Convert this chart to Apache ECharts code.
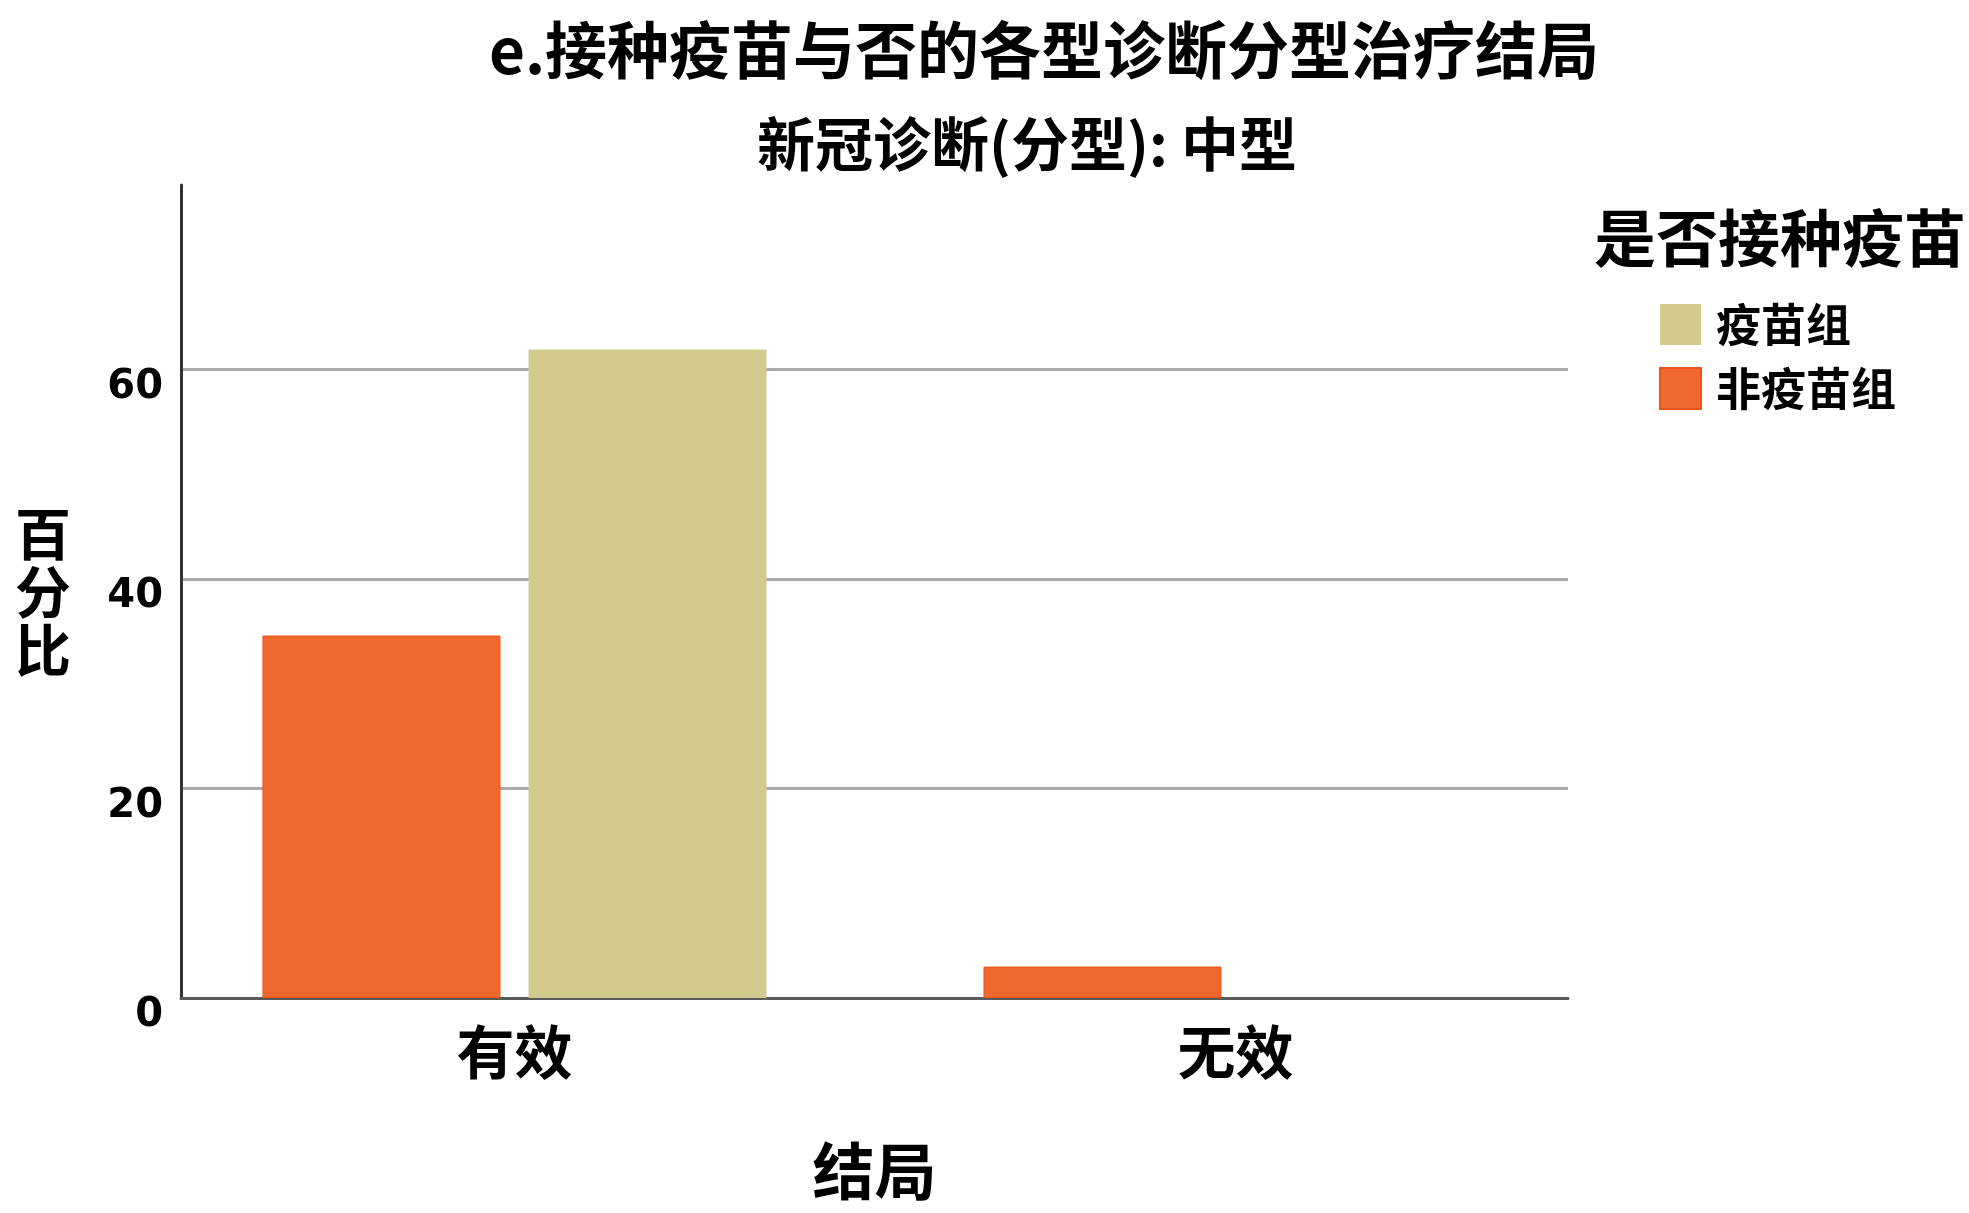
<!DOCTYPE html>
<html>
<head>
<meta charset="utf-8">
<script src="https://cdn.jsdelivr.net/npm/echarts@6/dist/echarts.min.js"></script>
<style>
html,body{margin:0;padding:0;background:#fff;}
#chart{width:1969px;height:1213px;}
</style>
</head>
<body>
<div id="chart"></div>
<script>
var categories = ['有效', '无效'];
var seriesNames = ['非疫苗组', '疫苗组'];
var nonVaccineValues = [34.6, 3.0];
var vaccineValues = [61.9, 0];
var yTicks = [0, 20, 40, 60];
var yMax = 77.6;

var CJK = '"Noto Sans CJK SC", "Noto Sans", sans-serif';
var chart = echarts.init(document.getElementById('chart'), null, {renderer: 'canvas'});

var option = {
  backgroundColor: '#ffffff',
  animation: false,
  title: [
    {text: 'e.接种疫苗与否的各型诊断分型治疗结局', left: 1039, top: 14, textAlign: 'center',
     textStyle: {fontFamily: CJK, fontWeight: 'bold', fontSize: 62, color: '#000', lineHeight: 62}},
    {text: '新冠诊断(分型): 中型', left: 1022, top: 110, textAlign: 'center',
     textStyle: {fontFamily: CJK, fontWeight: 'bold', fontSize: 58, color: '#000', lineHeight: 58}},
    {text: '是否接种疫苗', left: 1589, top: 202,
     textStyle: {fontFamily: CJK, fontWeight: 'bold', fontSize: 62, color: '#000', lineHeight: 62}}
  ],
  legend: {
    orient: 'vertical', left: 1654, top: 297,
    data: ['疫苗组', '非疫苗组'],
    itemWidth: 41, itemHeight: 41, itemGap: 19,
    icon: 'rect',
    textStyle: {fontFamily: CJK, fontWeight: 'bold', fontSize: 45, lineHeight: 41, color: '#000', padding: [0, 0, 0, 10]}
  },
  grid: [
    {left: 181, right: 401, top: 185, bottom: 215, containLabel: false},
    {left: 154, right: 373, top: 185, bottom: 215, containLabel: false}
  ],
  xAxis: [
    {type: 'category', gridIndex: 0, data: categories,
     axisLine: {show: true, lineStyle: {color: '#5a5a5a', width: 3}},
     axisTick: {show: false}, axisLabel: {show: false}, splitLine: {show: false},
     name: '结局', nameLocation: 'middle', nameGap: 142,
     nameTextStyle: {fontFamily: CJK, fontWeight: 'bold', fontSize: 62, color: '#000'}},
    {type: 'category', gridIndex: 1, data: categories,
     axisLine: {show: false}, axisTick: {show: false}, splitLine: {show: false},
     axisLabel: {show: true, margin: 25, fontFamily: CJK, fontWeight: 'bold', fontSize: 58, color: '#000'}}
  ],
  yAxis: [
    {type: 'value', gridIndex: 0, min: 0, max: yMax, interval: 20,
     axisLine: {show: true, lineStyle: {color: '#333333', width: 3}},
     axisTick: {show: false},
     axisLabel: {show: true, showMaxLabel: false, margin: 18, verticalAlign: 'top', lineHeight: 36,
       fontFamily: '"DejaVu Sans", sans-serif', fontWeight: 'bold', fontSize: 40, color: '#000',
       formatter: function (v) { return yTicks.indexOf(v) >= 0 ? String(v) : ''; }},
     splitLine: {show: true, showMinLine: false, showMaxLine: false, lineStyle: {color: '#ababab', width: 3}},
     name: '百\n分\n比', nameLocation: 'middle', nameRotate: 0, nameGap: 110,
     nameTextStyle: {fontFamily: CJK, fontWeight: 'bold', fontSize: 56, lineHeight: 58, color: '#000'}},
    {type: 'value', gridIndex: 1, min: 0, max: yMax, show: false, splitLine: {show: false}}
  ],
  series: [
    {name: seriesNames[0], type: 'bar', xAxisIndex: 1, yAxisIndex: 1, data: nonVaccineValues,
     barWidth: 238, barGap: '11.8%',
     itemStyle: {color: '#f0672d', borderColor: '#ea5419', borderWidth: 1}},
    {name: seriesNames[1], type: 'bar', xAxisIndex: 1, yAxisIndex: 1, data: vaccineValues,
     barWidth: 238, barGap: '11.8%',
     itemStyle: {color: '#d3cb8d', borderColor: '#cdc483', borderWidth: 0}}
  ]
};
chart.setOption(option);
</script>
</body>
</html>
